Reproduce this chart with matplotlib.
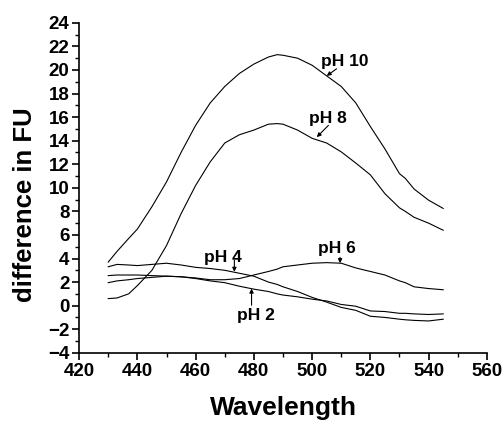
import matplotlib
matplotlib.use("Agg")
import matplotlib.pyplot as plt
from matplotlib.ticker import MultipleLocator

plt.rcParams['font.family'] = ['Liberation Sans', 'DejaVu Sans']
plt.rcParams['font.weight'] = 'bold'

wavelength = [430, 433, 437, 440, 445, 450, 455, 460, 465, 470, 475, 480, 485, 488,
              490, 495, 500, 505, 510, 515, 520, 525, 530, 532, 535, 540, 545]

ph10 = [3.7, 4.6, 5.7, 6.5, 8.4, 10.5, 13.0, 15.3, 17.2, 18.6, 19.7, 20.5, 21.1, 21.3,
        21.25, 21.0, 20.4, 19.5, 18.6, 17.2, 15.2, 13.3, 11.2, 10.8, 9.9, 8.95, 8.25]
ph8 = [0.6, 0.65, 1.0, 1.7, 3.0, 5.1, 7.8, 10.2, 12.2, 13.8, 14.5, 14.9, 15.4, 15.45,
       15.4, 14.9, 14.2, 13.8, 13.05, 12.1, 11.1, 9.5, 8.3, 8.0, 7.5, 7.0, 6.4]
ph6 = [1.95, 2.1, 2.2, 2.3, 2.4, 2.5, 2.45, 2.35, 2.2, 2.2, 2.3, 2.6, 2.9, 3.1,
       3.3, 3.45, 3.6, 3.65, 3.6, 3.2, 2.9, 2.6, 2.1, 1.95, 1.6, 1.45, 1.35]
ph4 = [3.3, 3.5, 3.45, 3.4, 3.5, 3.6, 3.45, 3.25, 3.15, 3.0, 2.75, 2.5, 2.0, 1.8,
       1.6, 1.2, 0.7, 0.3, -0.15, -0.4, -0.9, -1.0, -1.15, -1.2, -1.25, -1.3, -1.15]
ph2 = [2.55, 2.6, 2.6, 2.6, 2.55, 2.5, 2.45, 2.3, 2.1, 1.95, 1.65, 1.4, 1.2, 1.0,
       0.9, 0.75, 0.55, 0.4, 0.1, -0.05, -0.45, -0.5, -0.65, -0.65, -0.7, -0.75, -0.7]

series = [ph10, ph8, ph6, ph4, ph2]

# label text, text position, arrow tail, arrow head
labels = ["pH 10", "pH 8", "pH 6", "pH 4", "pH 2"]
label_xy = [(511.3, 20.7), (505.3, 15.9), (508.4, 4.85), (469.3, 4.1), (480.7, -0.8)]
arrow_tail = [(508.4, 20.1), (505.6, 15.3), (509.6, 4.1), (473.3, 3.86), (479.2, 0.04)]
arrow_head = [(505.0, 19.5), (501.6, 14.3), (509.6, 3.6), (473.3, 2.87), (479.2, 1.45)]

fig = plt.figure(figsize=(5.04, 4.23), dpi=100)
ax = fig.add_axes([0.157, 0.166, 0.809, 0.780])

for s in series:
    ax.plot(wavelength, s, color='black', lw=0.8)

for t, p in zip(labels, label_xy):
    ax.text(p[0], p[1], t, ha='center', va='center', fontsize=12.5, fontweight='bold')
for a, b in zip(arrow_tail, arrow_head):
    ax.annotate('', xy=b, xytext=a,
                arrowprops=dict(arrowstyle='-|>', color='black', lw=0.8,
                                mutation_scale=6, shrinkA=0, shrinkB=0))

ax.set_xlim(420, 560)
ax.set_ylim(-4, 24)
ax.xaxis.set_major_locator(MultipleLocator(20))
ax.xaxis.set_minor_locator(MultipleLocator(10))
ax.yaxis.set_major_locator(MultipleLocator(2))
ax.yaxis.set_minor_locator(MultipleLocator(1))
for sp in ['top', 'right']:
    ax.spines[sp].set_visible(False)
for sp in ['left', 'bottom']:
    ax.spines[sp].set_linewidth(1.2)
ax.tick_params(which='major', direction='out', length=5, width=1.2, labelsize=13.5, pad=2)
ax.tick_params(which='minor', direction='out', length=3, width=1.0)
for lab in ax.get_xticklabels() + ax.get_yticklabels():
    lab.set_fontweight('bold')

ax.set_xlabel('Wavelength', fontsize=19, fontweight='bold', labelpad=12)
ax.set_ylabel('difference in FU', fontsize=18.5, fontweight='bold')
ax.yaxis.set_label_coords(-0.103, 0.45)

fig.savefig('out.png', dpi=100)
